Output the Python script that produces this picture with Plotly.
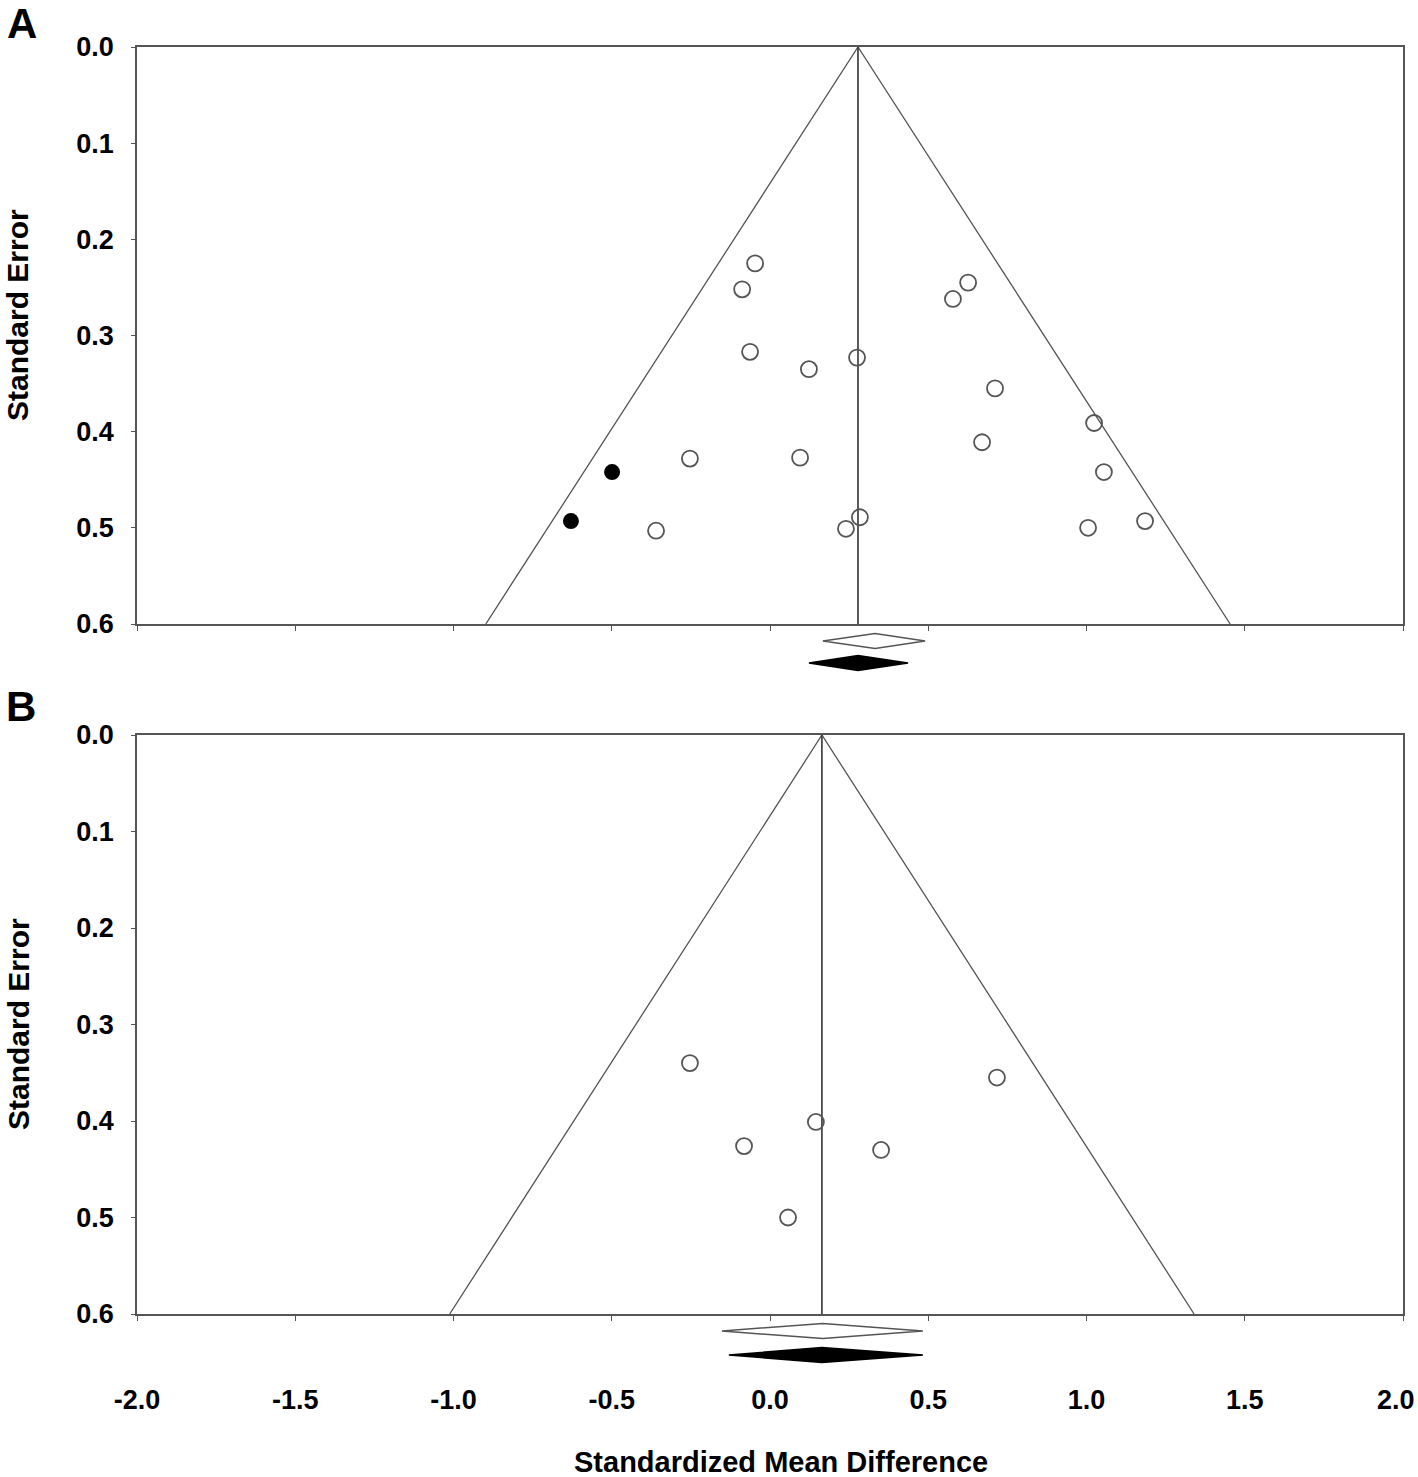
import plotly.graph_objects as go

# ---------------- data ----------------
# Panel A: observed studies
smd_A = [-0.047, -0.088, 0.626, 0.578, -0.063, 0.123, 0.275, 0.711, 1.024, 0.670,
         -0.253, 0.095, 1.055, -0.360, 0.240, 0.284, 1.005, 1.185]
se_A = [0.225, 0.252, 0.245, 0.262, 0.317, 0.335, 0.323, 0.355, 0.391, 0.411,
        0.428, 0.427, 0.442, 0.503, 0.501, 0.489, 0.500, 0.493]
# Panel A: imputed (trim-and-fill) studies
smd_A_imp = [-0.499, -0.629]
se_A_imp = [0.442, 0.493]
# Panel A pooled estimates: observed (open) and adjusted (filled)
pooled_A_obs = [0.167, 0.332, 0.490]
pooled_A_adj = [0.123, 0.278, 0.436]

# Panel B: observed studies
smd_B = [-0.253, 0.717, 0.145, -0.082, 0.351, 0.057]
se_B = [0.340, 0.355, 0.401, 0.426, 0.430, 0.500]
pooled_B_obs = [-0.152, 0.167, 0.483]
pooled_B_adj = [-0.130, 0.164, 0.483]

se_max = 0.6
x_ticks = [-2.0, -1.5, -1.0, -0.5, 0.0, 0.5, 1.0, 1.5, 2.0]
x_ticktext = ["-2.0", "-1.5", "-1.0", "-0.5", "0.0", "0.5", "1.0", "1.5", "2.0"]
y_ticks = [0.0, 0.1, 0.2, 0.3, 0.4, 0.5, 0.6]

# ---------------- layout geometry (pixels) ----------------
W, H = 1418, 1477
L, R, T, B = 137, 15, 47, 90
plot_h = H - T - B
bottom_px = H - B


def dom(px_top, px_bot):
    return [(bottom_px - px_bot) / plot_h, (bottom_px - px_top) / plot_h]


LINE = "#555555"
fig = go.Figure()


def funnel(xa, ya, center):
    fig.add_trace(go.Scatter(
        x=[center - 1.96 * se_max, center, center + 1.96 * se_max],
        y=[se_max, 0, se_max], mode="lines",
        line=dict(color=LINE, width=1.3), xaxis=xa, yaxis=ya,
        showlegend=False, hoverinfo="skip"))
    fig.add_trace(go.Scatter(
        x=[center, center], y=[0, se_max], mode="lines",
        line=dict(color="#333333", width=1.6), xaxis=xa, yaxis=ya,
        showlegend=False, hoverinfo="skip"))


def diamond(xa, ya, vals, yc, filled):
    lo, mid, hi = vals
    h = 7.5
    fig.add_trace(go.Scatter(
        x=[lo, mid, hi, mid, lo], y=[yc, yc - h, yc, yc + h, yc],
        mode="lines", fill="toself",
        fillcolor="black" if filled else "white",
        line=dict(color="black" if filled else LINE, width=1.5),
        xaxis=xa, yaxis=ya, showlegend=False, hoverinfo="skip"))


open_marker = dict(symbol="circle-open", size=16, color=LINE,
                   line=dict(color=LINE, width=1.8))

# Panel A
funnel("x", "y", pooled_A_adj[1])
fig.add_trace(go.Scatter(x=smd_A, y=se_A, mode="markers", marker=open_marker,
                         xaxis="x", yaxis="y", showlegend=False))
fig.add_trace(go.Scatter(x=smd_A_imp, y=se_A_imp, mode="markers",
                         marker=dict(symbol="circle", size=16, color="black"),
                         xaxis="x", yaxis="y", showlegend=False))

# Panel B
funnel("x2", "y2", pooled_B_adj[1])
fig.add_trace(go.Scatter(x=smd_B, y=se_B, mode="markers", marker=open_marker,
                         xaxis="x2", yaxis="y2", showlegend=False))

# Diamonds (below each panel)
diamond("x3", "y3", pooled_A_obs, 641, False)
diamond("x3", "y3", pooled_A_adj, 663, True)
diamond("x4", "y4", pooled_B_obs, 1331, False)
diamond("x4", "y4", pooled_B_adj, 1355, True)

tickfont = dict(family="Liberation Sans, Arial", size=27, color="black", weight="bold")

xcommon = dict(range=[-2, 2], tickvals=x_ticks,
               showline=True, linecolor=LINE, linewidth=1.5, mirror=True,
               ticks="outside", ticklen=5, tickcolor=LINE, tickwidth=1.3,
               showgrid=False, zeroline=False, tickfont=tickfont)
ycommon = dict(range=[se_max, 0], tickvals=y_ticks, ticktext=[f"{v:.1f}" for v in y_ticks],
               showline=True, linecolor=LINE, linewidth=1.5, mirror=True,
               ticks="outside", ticklen=4, tickcolor=LINE, tickwidth=1.3,
               showgrid=False, zeroline=False, tickfont=tickfont,
               ticklabelstandoff=12)

# last x tick label is placed separately (right-aligned at its tick) so it stays inside the page
main_text = x_ticktext[:-1] + [""]

fig.update_layout(
    width=W, height=H,
    margin=dict(l=L, r=R, t=T, b=B),
    paper_bgcolor="white", plot_bgcolor="white",
    xaxis=dict(**xcommon, ticktext=x_ticktext, anchor="y", domain=[0, 1],
               showticklabels=False),
    yaxis=dict(**ycommon, anchor="x", domain=dom(47, 624)),
    xaxis2=dict(**xcommon, ticktext=main_text, anchor="y2", domain=[0, 1],
                ticklabelstandoff=56),
    yaxis2=dict(**ycommon, anchor="x2", domain=dom(735, 1314)),
    xaxis3=dict(range=[-2, 2], anchor="y3", domain=[0, 1], visible=False),
    yaxis3=dict(range=[672, 630], anchor="x3", domain=dom(630, 672), visible=False),
    xaxis4=dict(range=[-2, 2], anchor="y4", domain=[0, 1], visible=False),
    yaxis4=dict(range=[1372, 1318], anchor="x4", domain=dom(1318, 1372), visible=False),
)


def px_x(px):
    return (px - L) / (W - L - R)


def px_y(py):
    return (bottom_px - py) / plot_h


def bold(size):
    return dict(family="Liberation Sans, Arial", size=size, color="black", weight="bold")


annotations = [
    dict(text="Standard Error", x=px_x(18), y=px_y(315), textangle=-90, font=bold(30)),
    dict(text="Standard Error", x=px_x(18), y=px_y(1024), textangle=-90, font=bold(30)),
    dict(text="Standardized Mean Difference", x=px_x(781), y=px_y(1462), font=bold(29)),
    dict(text="A", x=px_x(22), y=px_y(23), font=bold(42)),
    dict(text="B", x=px_x(21), y=px_y(706), font=bold(42)),
]
for a in annotations:
    fig.add_annotation(xref="paper", yref="paper", showarrow=False,
                       xanchor="center", yanchor="middle", **a)

fig.add_annotation(xref="x2", yref="paper", x=x_ticks[-1], y=px_y(1400),
                   text=x_ticktext[-1], showarrow=False, xanchor="right",
                   yanchor="middle", xshift=14, font=tickfont)

fig.write_html("out.html", config={"displayModeBar": False},
               post_script="document.body.style.margin='0';document.body.style.overflow='hidden';")
